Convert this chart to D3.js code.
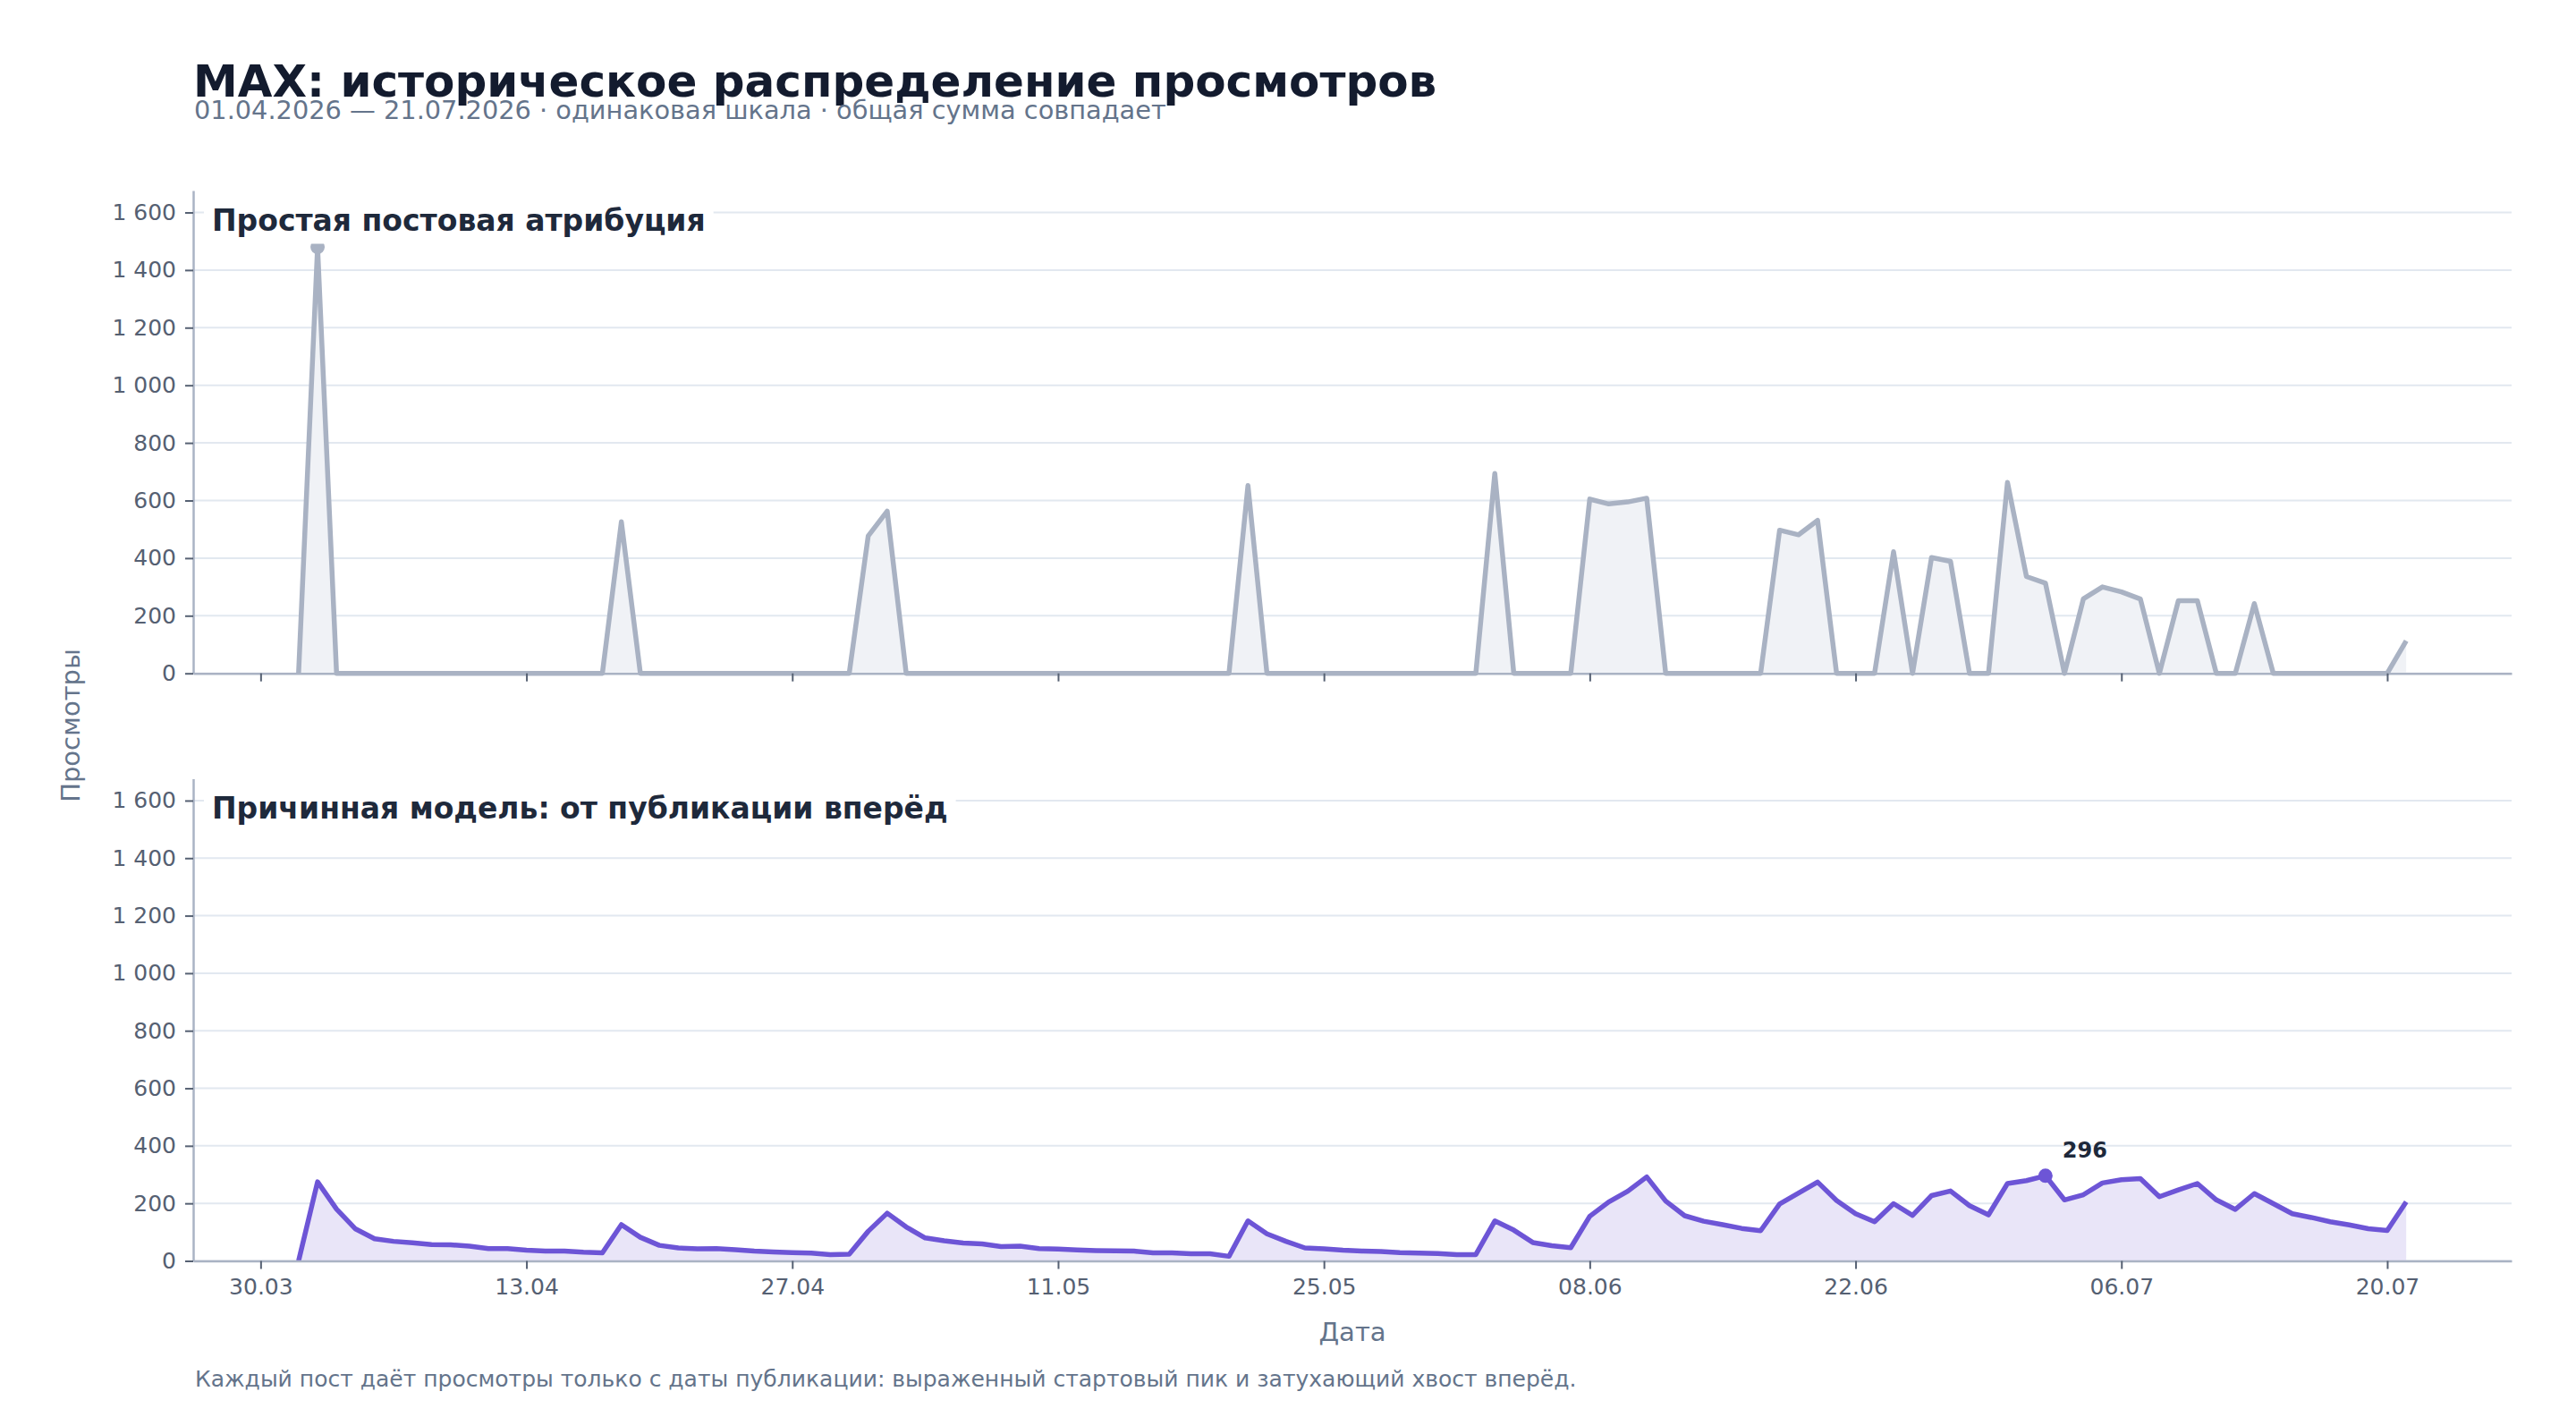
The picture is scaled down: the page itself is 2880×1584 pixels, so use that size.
<!DOCTYPE html>
<html>
<head>
<meta charset="utf-8">
<script src="https://cdn.jsdelivr.net/npm/d3@7"></script>
<style>
  body { margin: 0; background: #fff; }
  svg { display: block; }
  text { font-family: "DejaVu Sans", sans-serif; }
</style>
</head>
<body>
<svg id="chart"></svg>
<script>
// --- данные ---
const startDate = "2026-04-01";   // первый день ряда, далее по дню

// Простая постовая атрибуция: все просмотры поста в день публикации
const simpleViews = [
  0, 1480, 0, 0, 0, 0, 0, 0, 0, 0,
  0, 0, 0, 0, 0, 0, 0, 526, 0, 0,
  0, 0, 0, 0, 0, 0, 0, 0, 0, 0,
  477, 563, 0, 0, 0, 0, 0, 0, 0, 0,
  0, 0, 0, 0, 0, 0, 0, 0, 0, 0,
  652, 0, 0, 0, 0, 0, 0, 0, 0, 0,
  0, 0, 0, 694, 0, 0, 0, 0, 605, 588,
  595, 608, 0, 0, 0, 0, 0, 0, 497, 481,
  531, 0, 0, 0, 422, 0, 402, 389, 0, 0,
  663, 336, 313, 0, 259, 300, 283, 258, 0, 252,
  252, 0, 0, 242, 0, 0, 0, 0, 0, 0,
  0, 113
];

// Причинная модель: пик в день публикации и затухающий хвост
const causalViews = [
  0, 275, 180, 111, 77, 68, 63, 57, 56, 51,
  43, 43, 37, 34, 34, 30, 28, 126, 82, 54,
  45, 42, 43, 39, 34, 31, 29, 27, 22, 23,
  103, 166, 118, 80, 70, 62, 59, 50, 51, 43,
  41, 38, 36, 35, 34, 28, 28, 25, 25, 16,
  139, 94, 68, 45, 42, 37, 34, 33, 29, 27,
  26, 22, 22, 139, 107, 64, 53, 46, 155, 205,
  242, 292, 208, 157, 138, 126, 113, 105, 198, 236,
  274, 210, 164, 136, 199, 158, 227, 243, 192, 160,
  269, 279, 296, 212, 230, 271, 282, 286, 223, 247,
  269, 212, 179, 234, 199, 164, 151, 136, 125, 112,
  106, 205
];

const yTicks = [0, 200, 400, 600, 800, 1000, 1200, 1400, 1600];
const xTickDates = ["2026-03-30", "2026-04-13", "2026-04-27", "2026-05-11",
  "2026-05-25", "2026-06-08", "2026-06-22", "2026-07-06", "2026-07-20"];

const panelTitles = ["Простая постовая атрибуция", "Причинная модель: от публикации вперёд"];

// --- размеры ---
const W = 2880, H = 1584;
const left = 216, right = 2808;
const panels = [
  { top: 213, bottom: 752.7, values: simpleViews, line: "#a9b2c3", fill: "#f0f2f6", label: false },
  { top: 870.5, bottom: 1409.5, values: causalViews, line: "#6d55d6", fill: "#e9e5f8", label: true }
];
const yMax = 1676;

const svg = d3.select("#chart").attr("width", W).attr("height", H);

const parse = d3.utcParse("%Y-%m-%d");
const t0 = parse(startDate);
const dates = simpleViews.map((_, i) => d3.utcDay.offset(t0, i));

// поля 5% по краям, как у matplotlib
const span = dates[dates.length - 1] - dates[0];
const x = d3.scaleUtc()
  .domain([new Date(+dates[0] - span * 0.05), new Date(+dates[dates.length - 1] + span * 0.05)])
  .range([left, right]);

const ru = d3.formatLocale({ decimal: ",", thousands: " ", grouping: [3], currency: ["", ""] });
const fmtNum = ru.format(",d");
const fmtDate = d3.utcFormat("%d.%m");

// заголовок
svg.append("text").attr("x", 216).attr("y", 108)
  .attr("font-size", 50).attr("font-weight", "bold").attr("fill", "#131b2e")
  .text("MAX: историческое распределение просмотров");
svg.append("text").attr("x", 217).attr("y", 133)
  .attr("font-size", 28.8).attr("fill", "#64748b")
  .text("01.04.2026 — 21.07.2026 · одинаковая шкала · общая сумма совпадает");

panels.forEach((p, k) => {
  const y = d3.scaleLinear().domain([0, yMax]).range([p.bottom, p.top]);
  const g = svg.append("g");

  // сетка
  g.selectAll(".grid").data(yTicks).enter().append("line")
    .attr("x1", left).attr("x2", right)
    .attr("y1", d => y(d)).attr("y2", d => y(d))
    .attr("stroke", "#e2e8f0").attr("stroke-width", 2);

  const pts = p.values.map((v, i) => ({ date: dates[i], v: v }));

  g.append("path").datum(pts)
    .attr("fill", p.fill)
    .attr("d", d3.area().x(d => x(d.date)).y0(y(0)).y1(d => y(d.v)));

  g.append("path").datum(pts)
    .attr("fill", "none").attr("stroke", p.line).attr("stroke-width", 5.5)
    .attr("stroke-linejoin", "round")
    .attr("d", d3.line().x(d => x(d.date)).y(d => y(d.v)));

  // максимум
  const top = pts.reduce((a, b) => (b.v > a.v ? b : a));
  g.append("circle").attr("cx", x(top.date)).attr("cy", y(top.v)).attr("r", 8)
    .attr("fill", p.line);
  if (p.label) {
    g.append("text").attr("x", x(top.date) + 19).attr("y", y(top.v) - 20)
      .attr("font-size", 24).attr("font-weight", "bold").attr("fill", "#1e293b")
      .text(fmtNum(top.v));
  }

  // оси
  const ay = g.append("g").attr("transform", `translate(${left},0)`)
    .call(d3.axisLeft(y).tickValues(yTicks).tickFormat(fmtNum).tickSize(9).tickPadding(10).tickSizeOuter(0));
  const ax = g.append("g").attr("transform", `translate(0,${p.bottom})`)
    .call(d3.axisBottom(x).tickValues(xTickDates.map(parse))
      .tickFormat(k === 1 ? fmtDate : "").tickSize(9).tickPadding(10.5).tickSizeOuter(0));
  [ay, ax].forEach(a => {
    a.select(".domain").attr("stroke", "#aab3c4").attr("stroke-width", 2.5);
    a.selectAll(".tick line").attr("stroke", "#566173").attr("stroke-width", 2);
    a.selectAll(".tick text").attr("font-size", 25).attr("fill", "#556072")
      .attr("font-family", "DejaVu Sans");
  });

  // подпись панели на белой подложке
  const box = g.append("rect").attr("fill", "#fff");
  const lbl = g.append("text").attr("x", 237).attr("y", p.top + 44.5)
    .attr("font-size", 33).attr("font-weight", "bold").attr("fill", "#1e293b")
    .text(panelTitles[k]);
  const bb = lbl.node().getBBox();
  box.attr("x", bb.x - 9).attr("y", bb.y - 7).attr("width", bb.width + 18).attr("height", bb.height + 14);
});

// подписи осей
svg.append("text").attr("transform", "translate(89,811) rotate(-90)")
  .attr("text-anchor", "middle").attr("font-size", 29).attr("fill", "#64748b")
  .text("Просмотры");
svg.append("text").attr("x", (left + right) / 2).attr("y", 1499)
  .attr("text-anchor", "middle").attr("font-size", 29).attr("fill", "#64748b")
  .text("Дата");

svg.append("text").attr("x", 218).attr("y", 1550)
  .attr("font-size", 25).attr("fill", "#64748b")
  .text("Каждый пост даёт просмотры только с даты публикации: выраженный стартовый пик и затухающий хвост вперёд.");
</script>
</body>
</html>
